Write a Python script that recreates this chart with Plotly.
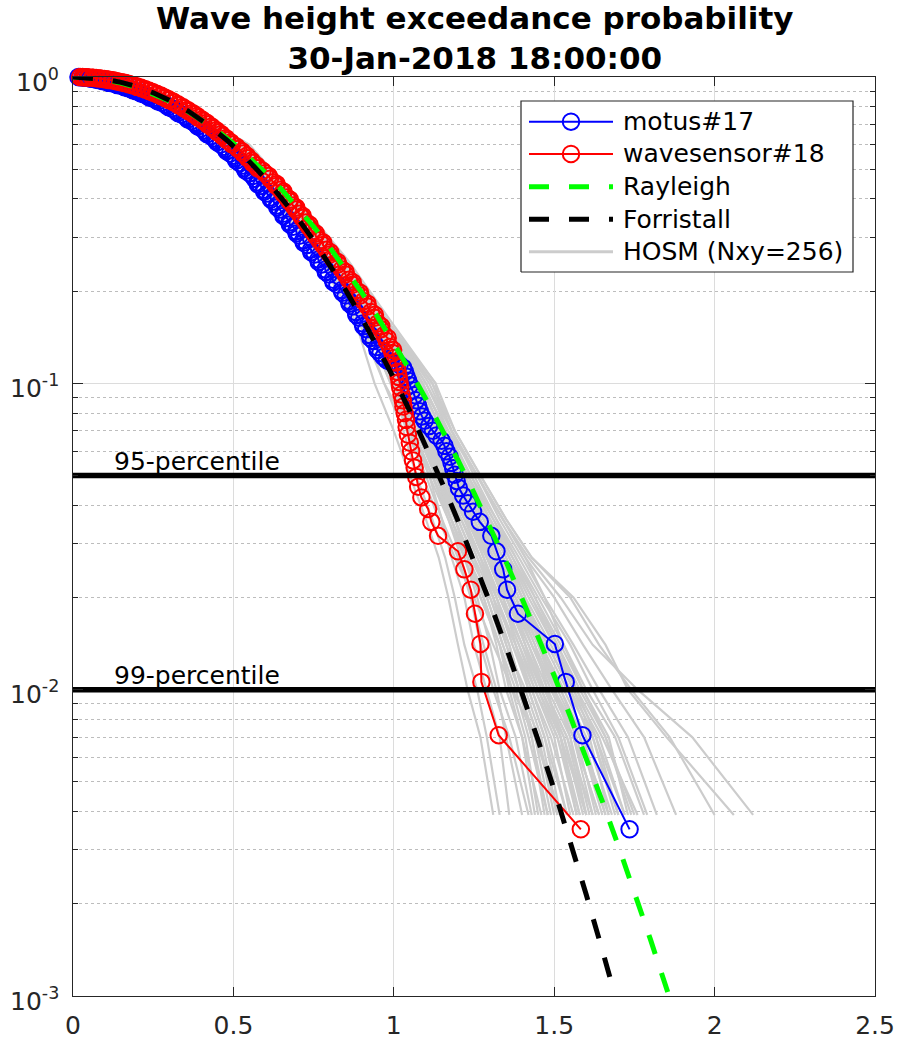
import math
import plotly.graph_objects as go

# ---------------------------------------------------------------- data
# motus#17 buoy: normalised wave height H/Hs and exceedance probability
motus_h = [0.017, 0.03, 0.035, 0.045, 0.052, 0.06, 0.07, 0.08, 0.09, 0.1,
           0.11, 0.122, 0.135, 0.147, 0.16, 0.172, 0.185, 0.197, 0.21, 0.222,
           0.235, 0.247, 0.26, 0.276, 0.292, 0.308, 0.323, 0.338, 0.354, 0.369,
           0.385, 0.4, 0.414, 0.43, 0.445, 0.46, 0.476, 0.49, 0.506, 0.52,
           0.535, 0.55, 0.566, 0.575, 0.586, 0.595, 0.605, 0.616, 0.625, 0.636,
           0.645, 0.655, 0.666, 0.675, 0.686, 0.696, 0.706, 0.718, 0.73, 0.742,
           0.754, 0.765, 0.776, 0.787, 0.798, 0.81, 0.824, 0.838, 0.85, 0.861,
           0.872, 0.882, 0.892, 0.903, 0.914, 0.926, 0.937, 0.948, 0.958, 0.968,
           0.978, 0.99, 1.005, 1.018, 1.029, 1.035, 1.04, 1.045, 1.05, 1.058,
           1.065, 1.07, 1.076, 1.081, 1.088, 1.096, 1.11, 1.122, 1.133, 1.149,
           1.158, 1.164, 1.174, 1.18, 1.185, 1.19, 1.196, 1.203, 1.216, 1.231,
           1.247, 1.268, 1.304, 1.32, 1.341, 1.353, 1.387, 1.502, 1.536, 1.588,
           1.735]
motus_p = [1.0, 0.9979, 0.9961, 0.9938, 0.9909, 0.9873, 0.9832, 0.9785, 0.9732, 0.9672,
           0.9607, 0.9536, 0.9459, 0.9376, 0.9287, 0.9193, 0.9094, 0.899, 0.888, 0.8765,
           0.8646, 0.8522, 0.8395, 0.8236, 0.8071, 0.7901, 0.7727, 0.7548, 0.7365, 0.718,
           0.6991, 0.68, 0.6607, 0.6412, 0.6216, 0.602, 0.5822, 0.5627, 0.543, 0.5235,
           0.504, 0.4848, 0.4658, 0.4533, 0.4408, 0.4285, 0.4163, 0.4042, 0.3923, 0.3806,
           0.3691, 0.3576, 0.3464, 0.3353, 0.3244, 0.3137, 0.3032, 0.2929, 0.2828, 0.273,
           0.2633, 0.2538, 0.2445, 0.2355, 0.2267, 0.218, 0.2097, 0.2015, 0.1935, 0.1858,
           0.1782, 0.1709, 0.1638, 0.1569, 0.1502, 0.1437, 0.1375, 0.1314, 0.1255, 0.122,
           0.119, 0.1175, 0.1165, 0.115, 0.1125, 0.109, 0.105, 0.102, 0.0985, 0.095,
           0.0915, 0.088, 0.0845, 0.081, 0.078, 0.0755, 0.0725, 0.07, 0.0675, 0.065,
           0.0625, 0.06, 0.0576, 0.055, 0.0528, 0.0503, 0.048, 0.0455, 0.043, 0.0406,
           0.0381, 0.0353, 0.0318, 0.0283, 0.0247, 0.0212, 0.0177, 0.0141, 0.0106, 0.0071,
           0.0035]
# further motus#17 samples inside the dense upper part of the record
motus_h2 = [0.022, 0.034, 0.038, 0.05, 0.054, 0.067, 0.072, 0.087, 0.092, 0.107,
            0.113, 0.131, 0.138, 0.156, 0.163, 0.181, 0.188, 0.206, 0.213, 0.231,
            0.238, 0.256, 0.265, 0.287, 0.297, 0.318, 0.327, 0.349, 0.358, 0.38,
            0.389, 0.41, 0.418, 0.441, 0.449, 0.471, 0.479, 0.501, 0.509, 0.531,
            0.538, 0.561, 0.576, 0.596, 0.617, 0.637, 0.656, 0.676, 0.697, 0.719,
            0.743, 0.766, 0.788, 0.812, 0.84, 0.862, 0.883, 0.905, 0.927, 0.949]
motus_p2 = [0.999, 0.997, 0.995, 0.9924, 0.989, 0.9853, 0.981, 0.976, 0.970, 0.964,
            0.957, 0.950, 0.942, 0.933, 0.924, 0.914, 0.904, 0.8935, 0.882, 0.8705,
            0.858, 0.846, 0.8315, 0.815, 0.7985, 0.781, 0.7635, 0.7455, 0.727, 0.7085,
            0.6895, 0.670, 0.651, 0.6315, 0.612, 0.592, 0.5725, 0.553, 0.533, 0.514,
            0.4945, 0.4755, 0.447, 0.4225, 0.398, 0.375, 0.352, 0.330, 0.3085, 0.288,
            0.268, 0.249, 0.231, 0.2138, 0.1975, 0.182, 0.1673, 0.1535, 0.1406, 0.1284]

# wavesensor#18
wave_h = [0.022, 0.03, 0.037, 0.05, 0.063, 0.075, 0.088, 0.1, 0.112, 0.126,
          0.137, 0.15, 0.163, 0.175, 0.188, 0.2, 0.213, 0.226, 0.238, 0.25,
          0.263, 0.276, 0.288, 0.3, 0.316, 0.33, 0.346, 0.36, 0.376, 0.39,
          0.406, 0.42, 0.436, 0.45, 0.466, 0.48, 0.496, 0.515, 0.53, 0.545,
          0.56, 0.576, 0.598, 0.614, 0.625, 0.634, 0.646, 0.655, 0.666, 0.675,
          0.686, 0.695, 0.706, 0.715, 0.726, 0.735, 0.746, 0.756, 0.768, 0.779,
          0.79, 0.801, 0.812, 0.826, 0.838, 0.849, 0.86, 0.871, 0.882, 0.895,
          0.906, 0.918, 0.929, 0.94, 0.95, 0.96, 0.97, 0.978, 0.988, 0.996,
          1.002, 1.006, 1.01, 1.012, 1.015, 1.018, 1.02, 1.024, 1.028, 1.03,
          1.034, 1.038, 1.04, 1.044, 1.05, 1.054, 1.06, 1.065, 1.07, 1.076,
          1.086, 1.107, 1.117, 1.138, 1.2, 1.22, 1.24, 1.253, 1.27, 1.273,
          1.327, 1.583]
wave_p = [1.0, 0.9987, 0.9979, 0.9961, 0.9938, 0.9909, 0.9873, 0.9832, 0.9785, 0.9732,
          0.9672, 0.9607, 0.9536, 0.9459, 0.9376, 0.9287, 0.9193, 0.9094, 0.899, 0.888,
          0.8765, 0.8646, 0.8522, 0.8395, 0.8236, 0.8071, 0.7901, 0.7727, 0.7548, 0.7365,
          0.718, 0.6991, 0.68, 0.6607, 0.6412, 0.6216, 0.602, 0.5822, 0.5627, 0.543,
          0.5235, 0.504, 0.4848, 0.4658, 0.4533, 0.4408, 0.4285, 0.4163, 0.4042, 0.3923,
          0.3806, 0.3691, 0.3576, 0.3464, 0.3353, 0.3244, 0.3137, 0.3032, 0.2929, 0.2828,
          0.273, 0.2633, 0.2538, 0.2445, 0.2355, 0.2267, 0.218, 0.2097, 0.2015, 0.1935,
          0.1858, 0.1782, 0.1709, 0.1638, 0.1569, 0.1502, 0.1437, 0.1375, 0.1314, 0.1255,
          0.121, 0.117, 0.113, 0.109, 0.105, 0.101, 0.097, 0.092, 0.088, 0.084,
          0.08, 0.076, 0.072, 0.068, 0.064, 0.06, 0.056, 0.053, 0.0495, 0.046,
          0.0424, 0.0389, 0.0353, 0.0318, 0.0283, 0.0247, 0.0212, 0.0177, 0.0141, 0.0106,
          0.0071, 0.0035]
wave_h2 = [0.03, 0.039, 0.047, 0.06, 0.072, 0.085, 0.098, 0.11, 0.123, 0.135,
           0.148, 0.161, 0.173, 0.186, 0.198, 0.211, 0.224, 0.236, 0.248, 0.261,
           0.274, 0.286, 0.298, 0.312, 0.327, 0.342, 0.357, 0.372, 0.387, 0.402,
           0.417, 0.432, 0.447, 0.462, 0.477, 0.492, 0.51, 0.527, 0.542, 0.557,
           0.572, 0.591, 0.61, 0.635, 0.656, 0.676, 0.696, 0.716, 0.737, 0.757,
           0.78, 0.802, 0.825, 0.85, 0.872, 0.895, 0.918, 0.941, 0.961, 0.981, 0.998]
wave_p2 = [0.9995, 0.9983, 0.997, 0.995, 0.9924, 0.989, 0.9853, 0.981, 0.976, 0.970,
           0.964, 0.957, 0.950, 0.942, 0.933, 0.924, 0.914, 0.904, 0.8935, 0.882,
           0.8705, 0.858, 0.846, 0.8315, 0.815, 0.7985, 0.781, 0.7635, 0.7455, 0.727,
           0.7085, 0.6895, 0.670, 0.651, 0.6315, 0.612, 0.592, 0.5725, 0.553, 0.533,
           0.514, 0.4945, 0.4755, 0.447, 0.4225, 0.398, 0.375, 0.352, 0.330, 0.3085,
           0.288, 0.268, 0.249, 0.231, 0.2138, 0.1975, 0.182, 0.1673, 0.1535, 0.1406, 0.1284]

# Rayleigh distribution
rayleigh_h = [0.0, 0.05, 0.1, 0.15, 0.2, 0.25, 0.3, 0.35, 0.4, 0.45,
              0.5, 0.55, 0.6, 0.65, 0.7, 0.75, 0.8, 0.85, 0.9, 0.95,
              1.0, 1.05, 1.1, 1.15, 1.2, 1.25, 1.3, 1.35, 1.4, 1.45,
              1.5, 1.55, 1.6, 1.65, 1.7, 1.75, 1.8, 1.858]
rayleigh_p = [1.0, 0.995, 0.9802, 0.956, 0.9231, 0.8825, 0.8353, 0.7827, 0.7261, 0.667,
              0.6065, 0.5461, 0.4868, 0.4296, 0.3753, 0.3247, 0.278, 0.2357, 0.1979, 0.1645,
              0.1353, 0.1103, 0.0889, 0.071, 0.0561, 0.0439, 0.034, 0.0261, 0.0198, 0.0149,
              0.0111, 0.00819, 0.00598, 0.00432, 0.00309, 0.00219, 0.00153, 0.001]

# Forristall distribution
forristall_h = [0.0, 0.05, 0.1, 0.15, 0.2, 0.25, 0.3, 0.36, 0.42, 0.48,
                0.54, 0.6, 0.65, 0.7, 0.75, 0.8, 0.85, 0.9, 0.95, 1.0,
                1.05, 1.1, 1.15, 1.2, 1.25, 1.3, 1.35, 1.4, 1.45, 1.5,
                1.55, 1.6, 1.65, 1.69]
forristall_p = [1.0, 0.9961, 0.9832, 0.9607, 0.9287, 0.888, 0.8395, 0.7727, 0.6991, 0.6216,
                0.543, 0.4658, 0.4042, 0.3464, 0.2929, 0.2445, 0.2015, 0.1638, 0.1314, 0.104,
                0.0812, 0.0626, 0.0475, 0.0356, 0.0263, 0.0192, 0.0138, 0.00977, 0.00683, 0.00471,
                0.0032, 0.00214, 0.00141, 0.001]

# HOSM (Nxy=256) ensemble: wave height at each exceedance level, one row per run
hosm_p = [1.0, 0.8, 0.6, 0.4, 0.25, 0.16, 0.1, 0.07, 0.05, 0.036, 0.027, 0.02, 0.014, 0.01, 0.007, 0.0039]
hosm_h = [
    [0.02, 0.30, 0.48, 0.63, 0.77, 0.88, 0.94, 1.00, 1.05, 1.10, 1.14, 1.17, 1.20, 1.23, 1.27, 1.31],
    [0.03, 0.31, 0.49, 0.64, 0.78, 0.90, 0.97, 1.03, 1.07, 1.12, 1.16, 1.19, 1.22, 1.26, 1.29, 1.33],
    [0.02, 0.31, 0.50, 0.65, 0.80, 0.91, 0.99, 1.04, 1.10, 1.15, 1.18, 1.22, 1.25, 1.29, 1.33, 1.36],
    [0.03, 0.32, 0.49, 0.65, 0.79, 0.92, 1.00, 1.06, 1.11, 1.15, 1.20, 1.24, 1.28, 1.32, 1.35, 1.40],
    [0.04, 0.33, 0.51, 0.66, 0.81, 0.92, 1.01, 1.07, 1.13, 1.18, 1.22, 1.26, 1.30, 1.33, 1.38, 1.43],
    [0.03, 0.32, 0.50, 0.66, 0.82, 0.94, 1.03, 1.08, 1.13, 1.19, 1.23, 1.27, 1.33, 1.37, 1.41, 1.45],
    [0.02, 0.31, 0.49, 0.65, 0.80, 0.93, 1.01, 1.07, 1.14, 1.20, 1.25, 1.29, 1.34, 1.39, 1.43, 1.48],
    [0.03, 0.32, 0.50, 0.67, 0.82, 0.93, 1.02, 1.09, 1.15, 1.21, 1.26, 1.31, 1.36, 1.40, 1.45, 1.50],
    [0.03, 0.33, 0.51, 0.67, 0.83, 0.95, 1.04, 1.10, 1.16, 1.22, 1.27, 1.32, 1.37, 1.42, 1.47, 1.52],
    [0.02, 0.32, 0.50, 0.66, 0.81, 0.93, 1.03, 1.09, 1.16, 1.23, 1.28, 1.33, 1.39, 1.44, 1.50, 1.55],
    [0.03, 0.33, 0.51, 0.67, 0.83, 0.95, 1.05, 1.11, 1.17, 1.24, 1.29, 1.34, 1.40, 1.45, 1.52, 1.57],
    [0.04, 0.33, 0.52, 0.68, 0.84, 0.96, 1.06, 1.12, 1.18, 1.25, 1.30, 1.35, 1.42, 1.47, 1.54, 1.60],
    [0.03, 0.32, 0.51, 0.67, 0.82, 0.94, 1.04, 1.11, 1.19, 1.26, 1.31, 1.37, 1.43, 1.49, 1.56, 1.62],
    [0.03, 0.33, 0.52, 0.68, 0.84, 0.97, 1.07, 1.13, 1.19, 1.26, 1.32, 1.38, 1.45, 1.51, 1.58, 1.65],
    [0.02, 0.32, 0.51, 0.68, 0.83, 0.95, 1.05, 1.12, 1.20, 1.27, 1.33, 1.39, 1.46, 1.53, 1.60, 1.68],
    [0.03, 0.34, 0.53, 0.69, 0.85, 0.97, 1.07, 1.14, 1.21, 1.28, 1.34, 1.40, 1.47, 1.54, 1.62, 1.70],
    [0.04, 0.33, 0.52, 0.69, 0.85, 0.98, 1.08, 1.15, 1.22, 1.29, 1.35, 1.41, 1.49, 1.56, 1.64, 1.72],
    [0.03, 0.34, 0.53, 0.70, 0.85, 0.98, 1.09, 1.16, 1.23, 1.30, 1.36, 1.43, 1.51, 1.58, 1.66, 1.75],
    [0.03, 0.34, 0.53, 0.70, 0.85, 0.98, 1.10, 1.17, 1.24, 1.31, 1.38, 1.45, 1.53, 1.60, 1.69, 1.78],
    [0.04, 0.35, 0.54, 0.70, 0.85, 0.98, 1.11, 1.18, 1.26, 1.33, 1.40, 1.47, 1.56, 1.64, 1.73, 1.82],
    [0.03, 0.34, 0.54, 0.70, 0.85, 0.98, 1.12, 1.18, 1.26, 1.34, 1.41, 1.50, 1.59, 1.68, 1.78, 1.88],
    [0.04, 0.35, 0.55, 0.70, 0.86, 0.99, 1.13, 1.19, 1.27, 1.35, 1.43, 1.55, 1.64, 1.74, 1.86, 2.00],
    [0.04, 0.35, 0.55, 0.70, 0.85, 0.98, 1.12, 1.18, 1.26, 1.34, 1.42, 1.52, 1.62, 1.76, 1.93, 2.12],
    [0.03, 0.34, 0.54, 0.69, 0.84, 0.97, 1.12, 1.19, 1.27, 1.35, 1.43, 1.56, 1.66, 1.73, 1.85, 2.06],
    [0.03, 0.33, 0.53, 0.70, 0.85, 0.98, 1.13, 1.16, 1.20, 1.24, 1.28, 1.33, 1.40, 1.46, 1.52, 1.58],
    [0.02, 0.30, 0.48, 0.64, 0.78, 0.89, 0.97, 1.05, 1.12, 1.18, 1.23, 1.28, 1.32, 1.35, 1.40, 1.46],
    [0.03, 0.31, 0.49, 0.64, 0.79, 0.91, 1.00, 1.05, 1.09, 1.14, 1.19, 1.25, 1.31, 1.37, 1.44, 1.52],
    [0.03, 0.32, 0.51, 0.67, 0.82, 0.95, 1.06, 1.14, 1.22, 1.30, 1.36, 1.41, 1.46, 1.50, 1.55, 1.60],
    [0.04, 0.33, 0.52, 0.68, 0.83, 0.96, 1.08, 1.17, 1.26, 1.34, 1.41, 1.47, 1.53, 1.59, 1.66, 1.74],
    [0.03, 0.32, 0.50, 0.66, 0.80, 0.92, 1.00, 1.06, 1.12, 1.17, 1.21, 1.24, 1.27, 1.31, 1.36, 1.42],
    [0.02, 0.31, 0.50, 0.65, 0.80, 0.92, 1.02, 1.10, 1.18, 1.25, 1.30, 1.34, 1.38, 1.42, 1.47, 1.54],
    [0.03, 0.33, 0.51, 0.67, 0.82, 0.94, 1.04, 1.12, 1.20, 1.28, 1.34, 1.40, 1.48, 1.55, 1.61, 1.67],
    [0.03, 0.32, 0.51, 0.66, 0.81, 0.93, 1.02, 1.08, 1.15, 1.22, 1.30, 1.38, 1.44, 1.48, 1.52, 1.57],
    [0.03, 0.31, 0.49, 0.65, 0.79, 0.91, 0.99, 1.05, 1.11, 1.17, 1.22, 1.27, 1.33, 1.38, 1.42, 1.48],
    [0.04, 0.34, 0.53, 0.70, 0.85, 0.97, 1.09, 1.16, 1.24, 1.32, 1.39, 1.46, 1.55, 1.62, 1.70, 1.79],
    [0.03, 0.33, 0.52, 0.68, 0.84, 0.96, 1.05, 1.13, 1.21, 1.29, 1.36, 1.42, 1.50, 1.57, 1.63, 1.70],
    [0.03, 0.32, 0.50, 0.66, 0.81, 0.93, 1.01, 1.06, 1.12, 1.18, 1.23, 1.28, 1.33, 1.36, 1.40, 1.44],
    [0.03, 0.32, 0.51, 0.67, 0.82, 0.94, 1.03, 1.10, 1.14, 1.19, 1.24, 1.30, 1.35, 1.41, 1.46, 1.51],
    [0.02, 0.31, 0.50, 0.66, 0.81, 0.93, 1.02, 1.08, 1.14, 1.21, 1.27, 1.31, 1.35, 1.39, 1.44, 1.49],
    [0.03, 0.33, 0.51, 0.67, 0.83, 0.95, 1.04, 1.11, 1.17, 1.23, 1.28, 1.32, 1.38, 1.43, 1.49, 1.56],
    [0.03, 0.32, 0.51, 0.67, 0.82, 0.95, 1.05, 1.12, 1.18, 1.24, 1.29, 1.36, 1.41, 1.47, 1.53, 1.59],
    [0.04, 0.33, 0.52, 0.68, 0.84, 0.96, 1.06, 1.13, 1.20, 1.27, 1.32, 1.37, 1.44, 1.50, 1.57, 1.63],
    [0.03, 0.33, 0.52, 0.69, 0.85, 0.97, 1.07, 1.14, 1.22, 1.29, 1.35, 1.40, 1.46, 1.52, 1.59, 1.66],
    [0.03, 0.34, 0.53, 0.69, 0.85, 0.98, 1.08, 1.15, 1.23, 1.31, 1.37, 1.43, 1.50, 1.56, 1.62, 1.69],
    [0.02, 0.31, 0.49, 0.65, 0.80, 0.92, 1.01, 1.07, 1.13, 1.19, 1.24, 1.30, 1.36, 1.40, 1.45, 1.51],
    [0.03, 0.32, 0.50, 0.66, 0.82, 0.94, 1.03, 1.09, 1.15, 1.21, 1.26, 1.32, 1.37, 1.43, 1.48, 1.54],
    [0.03, 0.33, 0.52, 0.68, 0.83, 0.96, 1.05, 1.12, 1.19, 1.25, 1.31, 1.36, 1.42, 1.48, 1.55, 1.61],
    [0.04, 0.34, 0.53, 0.70, 0.85, 0.97, 1.09, 1.16, 1.23, 1.30, 1.37, 1.44, 1.52, 1.59, 1.67, 1.73],
    [0.03, 0.33, 0.52, 0.69, 0.85, 0.97, 1.07, 1.13, 1.20, 1.27, 1.33, 1.39, 1.45, 1.50, 1.56, 1.64],
    [0.03, 0.32, 0.51, 0.67, 0.82, 0.94, 1.04, 1.10, 1.16, 1.22, 1.27, 1.33, 1.39, 1.45, 1.51, 1.58],
    [0.02, 0.31, 0.50, 0.66, 0.81, 0.93, 1.02, 1.08, 1.14, 1.20, 1.25, 1.31, 1.38, 1.44, 1.51, 1.57],
    [0.03, 0.32, 0.50, 0.66, 0.81, 0.93, 1.03, 1.10, 1.17, 1.24, 1.30, 1.36, 1.43, 1.49, 1.56, 1.64],
    [0.04, 0.34, 0.53, 0.70, 0.85, 0.98, 1.08, 1.15, 1.22, 1.28, 1.34, 1.40, 1.48, 1.55, 1.63, 1.72],
    [0.03, 0.33, 0.52, 0.68, 0.84, 0.96, 1.06, 1.13, 1.19, 1.25, 1.30, 1.35, 1.41, 1.46, 1.53, 1.60],
    [0.03, 0.32, 0.51, 0.67, 0.83, 0.95, 1.04, 1.11, 1.18, 1.26, 1.32, 1.38, 1.45, 1.52, 1.58, 1.66],
    [0.02, 0.31, 0.49, 0.65, 0.80, 0.92, 1.00, 1.06, 1.12, 1.18, 1.23, 1.29, 1.34, 1.39, 1.43, 1.47],
    [0.03, 0.32, 0.51, 0.67, 0.82, 0.94, 1.03, 1.09, 1.16, 1.23, 1.29, 1.35, 1.41, 1.46, 1.52, 1.60],
    [0.03, 0.33, 0.52, 0.68, 0.84, 0.96, 1.06, 1.12, 1.19, 1.26, 1.32, 1.37, 1.43, 1.50, 1.58, 1.67],
    [0.04, 0.34, 0.54, 0.70, 0.85, 0.98, 1.10, 1.18, 1.25, 1.32, 1.38, 1.44, 1.51, 1.57, 1.65, 1.76],
    [0.03, 0.33, 0.51, 0.67, 0.83, 0.95, 1.05, 1.11, 1.18, 1.24, 1.29, 1.34, 1.40, 1.47, 1.54, 1.62],
]

percentile_p = [0.05, 0.01]
percentile_labels = ["95-percentile", "99-percentile"]

y_tick_vals = [1, 0.1, 0.01, 0.001]
y_tick_text = ["10<sup>0</sup>", "10<sup>-1</sup>", "10<sup>-2</sup>", "10<sup>-3</sup>"]

legend_names = ["motus#17", "wavesensor#18", "Rayleigh", "Forristall", "HOSM (Nxy=256)"]

title_lines = ["Wave height exceedance probability", "30-Jan-2018 18:00:00"]

# ---------------------------------------------------------------- styling
FONT = "DejaVu Sans"
AX = "#262626"
BLUE, RED, GREEN, BLACK = "#0000ff", "#ff0000", "#00ff00", "#000000"
GREY = "rgb(204,204,204)"
DASH = "20px,20px"

W, H = 897, 1041
L, R, T, B = 73, 875, 77, 996          # plot area in pixels


def px_x(px):
    return (px - L) / (R - L)


def px_y(py):
    return (B - py) / (B - T)


def ordered(h, p, h2, p2):
    """Merge two sample lists and order them by decreasing exceedance."""
    pts = sorted(zip(h + h2, p + p2), key=lambda t: -t[1])
    return [a for a, _ in pts], [b for _, b in pts]


fig = go.Figure()

# HOSM ensemble
for row in hosm_h:
    fig.add_trace(go.Scatter(x=row, y=hosm_p, mode="lines",
                             line=dict(color=GREY, width=2.2),
                             showlegend=False, hoverinfo="skip"))

# measurements
for (hx, hp), col in ((ordered(motus_h, motus_p, motus_h2, motus_p2), BLUE),
                      (ordered(wave_h, wave_p, wave_h2, wave_p2), RED)):
    fig.add_trace(go.Scatter(x=hx, y=hp, mode="lines+markers",
                             line=dict(color=col, width=2),
                             marker=dict(symbol="circle-open", size=16.5, color=col,
                                         line=dict(width=2, color=col)),
                             cliponaxis=False, showlegend=False))

# theoretical distributions
fig.add_trace(go.Scatter(x=rayleigh_h, y=rayleigh_p, mode="lines",
                         line=dict(color=GREEN, width=5, dash=DASH), showlegend=False))
fig.add_trace(go.Scatter(x=forristall_h, y=forristall_p, mode="lines",
                         line=dict(color=BLACK, width=5, dash=DASH), showlegend=False))

# percentile levels
for pv in percentile_p:
    fig.add_trace(go.Scatter(x=[0, 2.5], y=[pv, pv], mode="lines",
                             line=dict(color=BLACK, width=5.5), showlegend=False,
                             hoverinfo="skip"))

# ---------------------------------------------------------------- legend box
lx0, lx1, ly0, ly1 = px_x(521), px_x(853), px_y(272), px_y(101)
fig.add_trace(go.Scatter(x=[lx0, lx1, lx1, lx0, lx0], y=[ly0, ly0, ly1, ly1, ly0],
                         mode="lines", fill="toself", fillcolor="white",
                         line=dict(color=AX, width=1.2), xaxis="x2", yaxis="y2",
                         showlegend=False, hoverinfo="skip"))
row_y = [px_y(v) for v in (121.7, 154.0, 186.7, 219.3, 251.7)]
sx0, sx1, sxm = px_x(529), px_x(613), px_x(571)
sample_styles = [
    dict(color=BLUE, width=2),
    dict(color=RED, width=2),
    dict(color=GREEN, width=5, dash=DASH),
    dict(color=BLACK, width=5, dash=DASH),
    dict(color=GREY, width=3),
]
for i, st in enumerate(sample_styles):
    fig.add_trace(go.Scatter(x=[sx0, sx1], y=[row_y[i], row_y[i]], mode="lines",
                             line=st, xaxis="x2", yaxis="y2", showlegend=False,
                             hoverinfo="skip"))
for i, col in enumerate((BLUE, RED)):
    fig.add_trace(go.Scatter(x=[sxm], y=[row_y[i]], mode="markers",
                             marker=dict(symbol="circle-open", size=16.5, color=col,
                                         line=dict(width=2, color=col)),
                             xaxis="x2", yaxis="y2", showlegend=False, hoverinfo="skip"))

annotations = []
for i, name in enumerate(legend_names):
    annotations.append(dict(x=px_x(621), y=row_y[i], xref="paper", yref="paper",
                            text=name, showarrow=False, xanchor="left", yanchor="middle",
                            font=dict(family=FONT, size=25, color="black")))

# percentile labels
for pv, lab in zip(percentile_p, percentile_labels):
    annotations.append(dict(x=0.12, y=math.log10(pv), xref="x", yref="y", text=lab,
                            showarrow=False, xanchor="left", yanchor="bottom", yshift=-2,
                            font=dict(family=FONT, size=25, color="black")))

# y tick labels
for v, t in zip(y_tick_vals, y_tick_text):
    annotations.append(dict(x=0, y=math.log10(v), xref="paper", yref="y", text=t,
                            showarrow=False, xanchor="right", yanchor="middle",
                            xshift=-12, yshift=-3,
                            font=dict(family=FONT, size=25, color=AX)))

# title
annotations.append(dict(x=0.5, y=1, xref="paper", yref="paper",
                        text="<b>" + title_lines[0] + "</b><br><b>" + title_lines[1] + "</b>",
                        showarrow=False, xanchor="center", yanchor="bottom", yshift=-1,
                        font=dict(family=FONT, size=31, color="black")))

fig.update_layout(
    width=W, height=H,
    margin=dict(l=L, r=W - R, t=T, b=H - B, pad=0, autoexpand=False),
    paper_bgcolor="white", plot_bgcolor="white",
    showlegend=False,
    font=dict(family=FONT, size=25, color=AX),
    xaxis=dict(range=[0, 2.5], dtick=0.5, tick0=0, ticks="inside", ticklen=9,
               tickwidth=1.2, tickcolor=AX, showline=True, linecolor=AX, linewidth=1.3,
               mirror="ticks", showgrid=True, gridcolor="#dcdcdc", gridwidth=1,
               zeroline=False, ticklabelstandoff=7, automargin=False,
               tickfont=dict(family=FONT, size=25, color=AX)),
    yaxis=dict(type="log", range=[-3, 0], dtick=1, ticks="inside", ticklen=10,
               tickwidth=1.2, tickcolor=AX, showline=True, linecolor=AX, linewidth=1.3,
               mirror="ticks", showgrid=True, gridcolor="#dcdcdc", gridwidth=1,
               zeroline=False, showticklabels=False, automargin=False,
               minor=dict(dtick="D1", ticks="inside", ticklen=5, tickcolor=AX,
                          showgrid=True, gridcolor="#bdbdbd", griddash="dot",
                          gridwidth=1)),
    xaxis2=dict(overlaying="x", range=[0, 1], visible=False, fixedrange=True),
    yaxis2=dict(overlaying="y", range=[0, 1], visible=False, fixedrange=True),
    annotations=annotations,
)

fig.write_html("out.html")
